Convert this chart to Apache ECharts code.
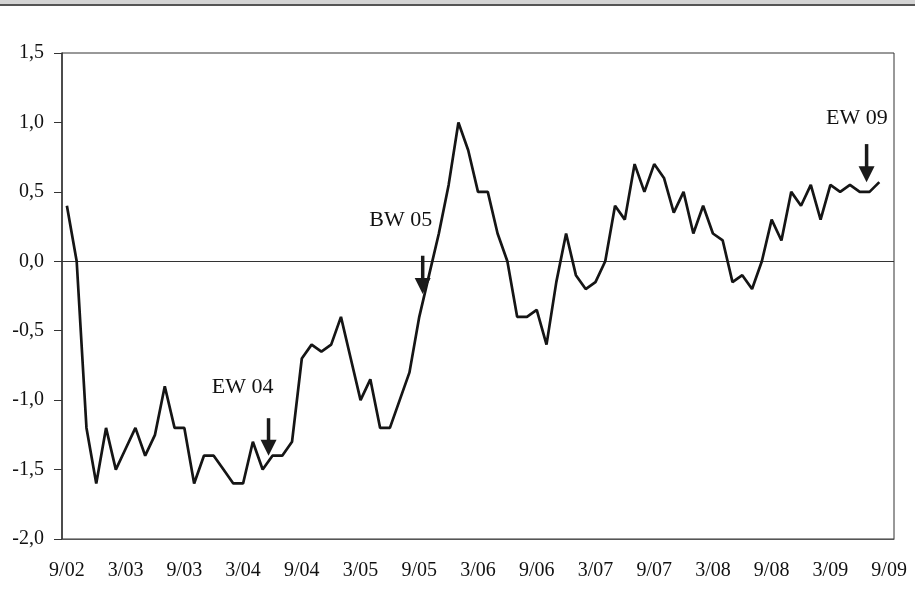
<!DOCTYPE html>
<html><head><meta charset="utf-8">
<script src="https://cdn.jsdelivr.net/npm/echarts@6/dist/echarts.min.js"></script>
<style>
html,body{margin:0;padding:0;background:#fff;}
#chart{position:absolute;left:0;top:0;width:915px;height:615px;}
#bar{position:absolute;left:0;top:0;width:915px;height:4px;background:#d4d4d4;border-bottom:2px solid #555;}
</style></head><body>
<div id="chart"></div><div id="bar"></div>
<script>
const categories = [
 '9/02','10/02','11/02','12/02',
 '1/03','2/03','3/03','4/03','5/03','6/03','7/03','8/03','9/03','10/03','11/03','12/03',
 '1/04','2/04','3/04','4/04','5/04','6/04','7/04','8/04','9/04','10/04','11/04','12/04',
 '1/05','2/05','3/05','4/05','5/05','6/05','7/05','8/05','9/05','10/05','11/05','12/05',
 '1/06','2/06','3/06','4/06','5/06','6/06','7/06','8/06','9/06','10/06','11/06','12/06',
 '1/07','2/07','3/07','4/07','5/07','6/07','7/07','8/07','9/07','10/07','11/07','12/07',
 '1/08','2/08','3/08','4/08','5/08','6/08','7/08','8/08','9/08','10/08','11/08','12/08',
 '1/09','2/09','3/09','4/09','5/09','6/09','7/09','8/09','9/09'
];
const values = [
 0.4, 0.0, -1.2, -1.6, -1.2, -1.5, -1.35, -1.2, -1.4, -1.25, -0.9, -1.2,
 -1.2, -1.6, -1.4, -1.4, -1.5, -1.6, -1.6, -1.3, -1.5, -1.4, -1.4, -1.3,
 -0.7, -0.6, -0.65, -0.6, -0.4, -0.7, -1.0, -0.85, -1.2, -1.2, -1.0, -0.8,
 -0.4, -0.1, 0.2, 0.55, 1.0, 0.8, 0.5, 0.5, 0.2, 0.0, -0.4, -0.4,
 -0.35, -0.6, -0.15, 0.2, -0.1, -0.2, -0.15, 0.0, 0.4, 0.3, 0.7, 0.5,
 0.7, 0.6, 0.35, 0.5, 0.2, 0.4, 0.2, 0.15, -0.15, -0.1, -0.2, 0.0,
 0.3, 0.15, 0.5, 0.4, 0.55, 0.3, 0.55, 0.5, 0.55, 0.5, 0.5, 0.57,
 null
];
const xTickLabels = ['9/02','3/03','9/03','3/04','9/04','3/05','9/05','3/06','9/06','3/07','9/07','3/08','9/08','3/09','9/09'];
const yTickLabels = ['-2,0','-1,5','-1,0','-0,5','0,0','0,5','1,0','1,5'];
const yMin = -2, yMax = 1.5, yStep = 0.5;

// annotations (positions in data units: x = category index, y = value)
const annoText  = ['EW 04', 'BW 05', 'EW 09'];
const annoTextX = [17.96, 34.1, 80.7];
const annoTextY = [-0.907, 0.298, 1.027];
const arrowX    = [20.6, 36.35, 81.7];
const arrowTop  = [-1.13, 0.04, 0.844];
const arrowTip  = [-1.40, -0.236, 0.57];

const annoData = annoText.map((t, i) => [arrowX[i], arrowTop[i], arrowTip[i], annoTextX[i], annoTextY[i]]);

const FONT = '"Liberation Serif","Times New Roman",serif';
const chart = echarts.init(document.getElementById('chart'));
chart.setOption({
  animation: false,
  backgroundColor: '#fff',
  grid: { left: 62, right: 21, top: 53, bottom: 76, show: true, borderColor: '#333', borderWidth: 1, backgroundColor: 'transparent' },
  xAxis: [{
    type: 'category',
    data: categories,
    boundaryGap: true,
    axisLine: { show: true, onZero: false, lineStyle: { color: '#555', width: 1 } },
    axisTick: { show: false },
    splitLine: { show: false },
    axisLabel: {
      interval: (idx) => idx % 6 === 0,
      formatter: (v) => xTickLabels.indexOf(v) >= 0 ? v : '',
      margin: 22, fontFamily: FONT, fontSize: 20, color: '#111'
    }
  }, {
    type: 'value', min: -0.5, max: categories.length - 0.5, show: false
  }],
  yAxis: {
    type: 'value', min: yMin, max: yMax, interval: yStep,
    axisLine: { show: true, onZero: false, lineStyle: { color: '#333', width: 1.5 } },
    axisTick: { show: true, inside: false, length: 8, lineStyle: { color: '#333', width: 1 } },
    splitLine: { show: false },
    axisLabel: {
      margin: 18, fontFamily: FONT, fontSize: 20, color: '#111',
      formatter: (v) => yTickLabels[Math.round((v - yMin) / yStep)]
    }
  },
  series: [{
    type: 'line',
    data: values,
    xAxisIndex: 0,
    symbol: 'none',
    lineStyle: { color: '#151515', width: 2.7 },
    z: 3,
    markLine: {
      silent: true, symbol: 'none', label: { show: false },
      lineStyle: { color: '#333', width: 1, type: 'solid' },
      data: [{ yAxis: 0 }],
      z: 2
    }
  }, {
    type: 'custom',
    xAxisIndex: 1,
    data: annoData,
    clip: false,
    z: 4,
    encode: { x: [0, 3], y: [1, 2, 4] },
    renderItem: (params, api) => {
      const i = params.dataIndex;
      const top = api.coord([api.value(0), api.value(1)]);
      const tip = api.coord([api.value(0), api.value(2)]);
      const txt = api.coord([api.value(3), api.value(4)]);
      const hw = 8, hh = 16;
      return { type: 'group', children: [
        { type: 'line', shape: { x1: top[0], y1: top[1], x2: tip[0], y2: tip[1] - hh + 2 }, style: { stroke: '#1a1a1a', lineWidth: 3.5 } },
        { type: 'polygon', shape: { points: [[tip[0] - hw, tip[1] - hh], [tip[0] + hw, tip[1] - hh], [tip[0], tip[1]]] }, style: { fill: '#1a1a1a' } },
        { type: 'text', x: txt[0], y: txt[1], style: { text: annoText[i], align: 'center', verticalAlign: 'middle', font: '22px ' + FONT, fill: '#111' } }
      ] };
    }
  }]
});
</script>
</body></html>
